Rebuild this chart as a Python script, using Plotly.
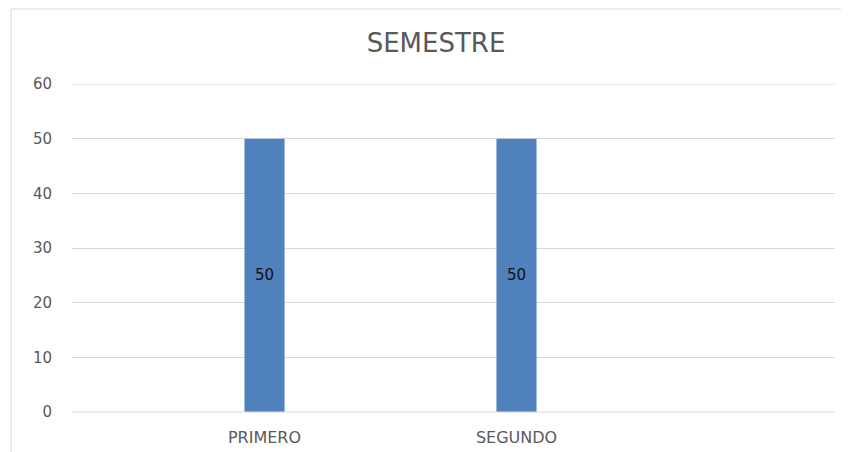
import plotly.graph_objects as go

categories = ["PRIMERO", "SEGUNDO"]
values = [50, 50]
y_ticks = [0, 10, 20, 30, 40, 50, 60]
title_text = "SEMESTRE"

W, H = 849, 452
L, R, T, B = 64, 22, 76, 48
pw = W - L - R
ph = H - T - B

fig = go.Figure(go.Bar(
    x=list(range(len(categories))),
    y=values,
    width=0.159,
    marker=dict(color="#4f81bd", line=dict(width=0)),
    text=[str(v) for v in values],
    textposition="inside",
    insidetextanchor="middle",
    textfont=dict(family="DejaVu Sans", size=15, color="#111111"),
    hoverinfo="skip",
))

fig.update_layout(
    width=W, height=H,
    margin=dict(l=L, r=R, t=T, b=B, pad=0),
    paper_bgcolor="white", plot_bgcolor="white",
    showlegend=False,
    title=dict(text=title_text, x=(428 - L) / pw, xref="paper", xanchor="center",
               y=1 - 35 / H, yanchor="middle",
               font=dict(family="DejaVu Sans", size=26, color="#595959")),
    xaxis=dict(
        range=[-0.764, 2.264],
        tickmode="array", tickvals=list(range(len(categories))), ticktext=categories,
        showgrid=False, zeroline=False, showline=False, ticks="",
        ticklabelstandoff=14,
        tickfont=dict(family="DejaVu Sans", size=16, color="#595959"),
    ),
    yaxis=dict(
        range=[0, 60], tickvals=y_ticks,
        showgrid=True, gridcolor="#d9d9d9", gridwidth=1,
        zeroline=False, showline=False, ticks="",
        ticklabelstandoff=19,
        tickfont=dict(family="DejaVu Sans", size=15, color="#595959"),
    ),
    shapes=[
        dict(type="line", xref="paper", yref="paper", x0=0, x1=1, y0=0, y1=0,
             line=dict(color="#d9d9d9", width=1)),
        dict(type="line", xref="paper", yref="y", x0=0, x1=1,
             y0=y_ticks[-1], y1=y_ticks[-1],
             line=dict(color="#d9d9d9", width=1)),
        dict(type="line", xref="paper", yref="paper",
             x0=(3 - L) / pw, x1=(3 - L) / pw, y0=-0.3, y1=1 + (T - 1) / ph,
             line=dict(color="#d9d9d9", width=1)),
        dict(type="line", xref="paper", yref="paper",
             x0=(3 - L) / pw, x1=1.2, y0=1 + (T - 1) / ph, y1=1 + (T - 1) / ph,
             line=dict(color="#d9d9d9", width=1)),
    ],
)

fig.write_html("out.html")
